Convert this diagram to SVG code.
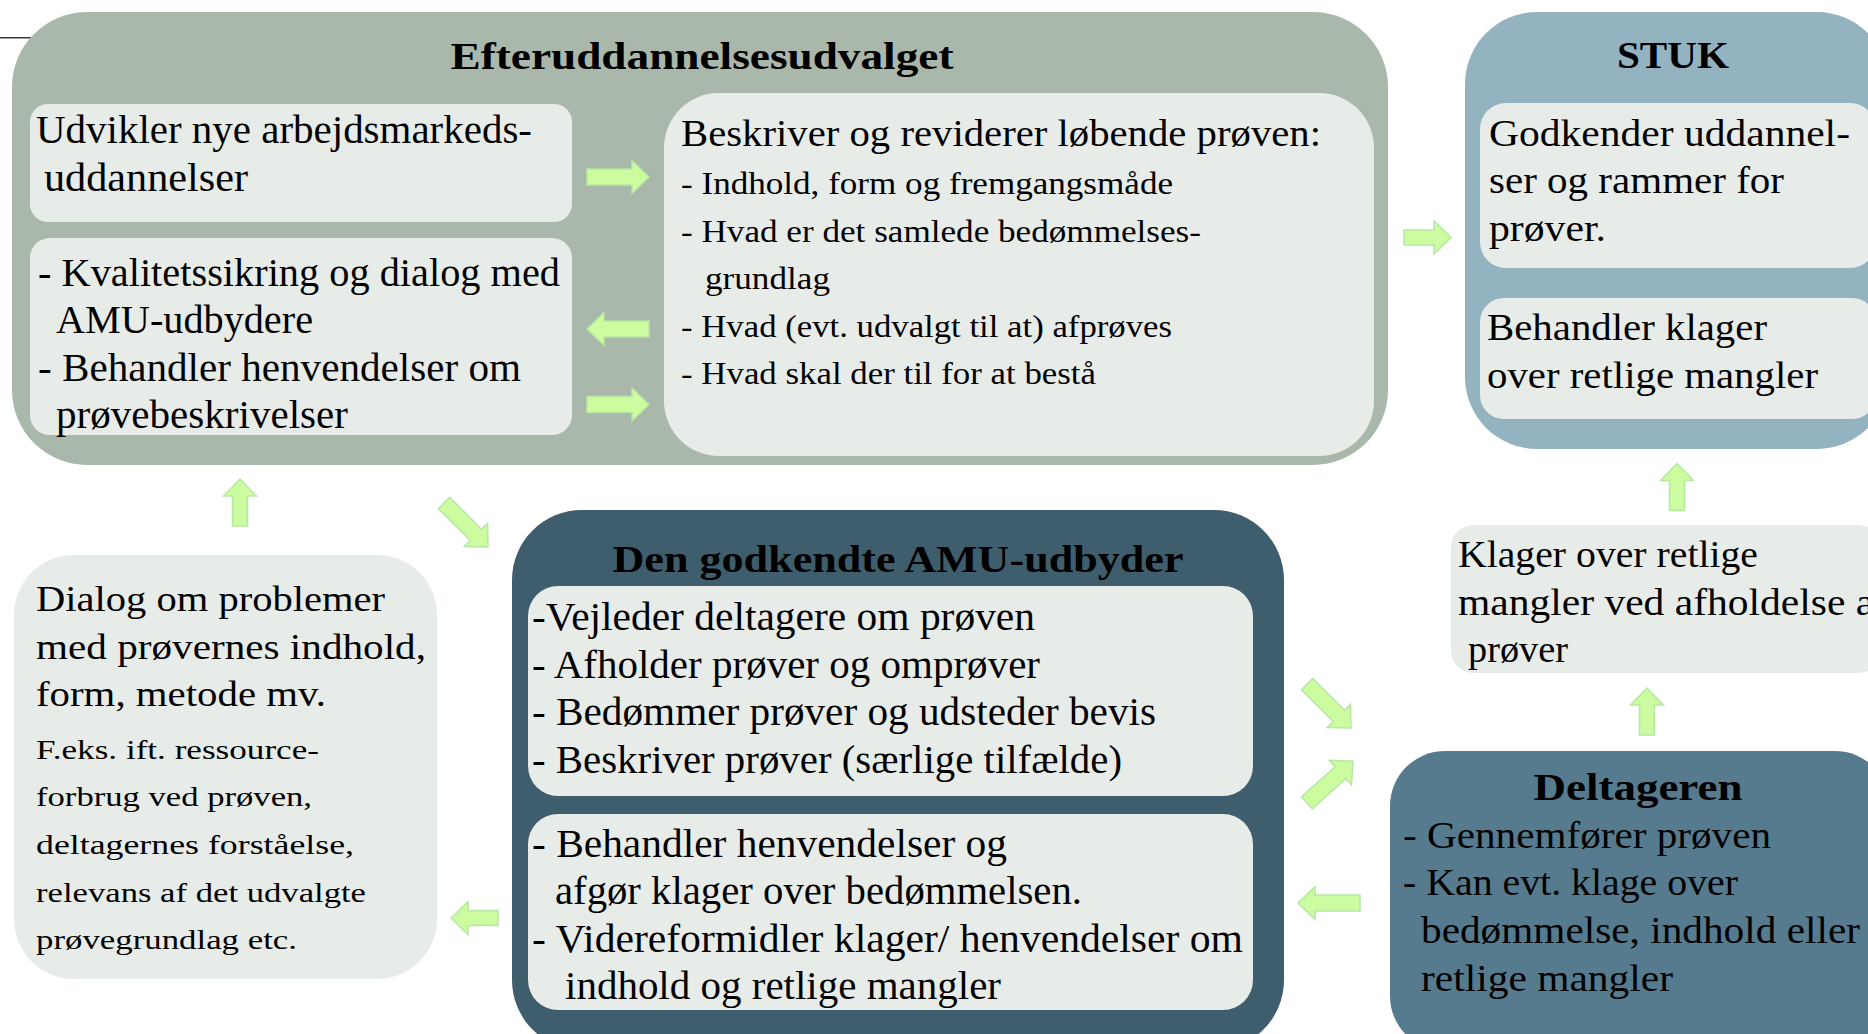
<svg xmlns="http://www.w3.org/2000/svg" width="1868" height="1034" viewBox="0 0 1868 1034">
<style>
text{font-family:"Liberation Serif","Times New Roman",serif;fill:#000;}
.t{font-weight:bold;font-size:38px;}
.b{font-size:38px;}
.c{font-size:41px;}
.m{font-size:31px;}
.s{font-size:28px;}
.inner{fill:#e8ece9;}
.arr{fill:#cdfba0;stroke:#b5e8a3;stroke-width:1.5;}
</style>
<defs>
<path id="arrL" d="M-31,-8 H14 V-16.5 L31,0 L14,16.5 V8 H-31 Z"/>
<path id="arrS" d="M-23.5,-7.5 H6.5 V-16.5 L23.5,0 L6.5,16.5 V7.5 H-23.5 Z"/>
</defs>
<rect width="1868" height="1034" fill="#fff"/>
<line x1="0" y1="37.7" x2="34" y2="37.7" stroke="#3a3a3a" stroke-width="1.5"/>

<g id="n-efteruddannelsesudvalget">
<rect x="12" y="12" width="1376" height="453" rx="75" fill="#aab8ab"/>
<text class="t" x="702" y="69" text-anchor="middle" textLength="503" lengthAdjust="spacingAndGlyphs">Efteruddannelsesudvalget</text>
</g>
<g id="n-udvikler">
<rect class="inner" x="30" y="104" width="542" height="118" rx="18"/>
<text class="c" x="36" y="143" textLength="496" lengthAdjust="spacingAndGlyphs">Udvikler nye arbejdsmarkeds-</text>
<text class="c" x="44" y="191" textLength="204" lengthAdjust="spacingAndGlyphs">uddannelser</text>
</g>
<g id="n-kvalitet">
<rect class="inner" x="30" y="238" width="542" height="197" rx="20"/>
<text class="c" x="38" y="286" textLength="522" lengthAdjust="spacingAndGlyphs">- Kvalitetssikring og dialog med</text>
<text class="c" x="56" y="333" textLength="257" lengthAdjust="spacingAndGlyphs">AMU-udbydere</text>
<text class="c" x="38" y="381" textLength="483" lengthAdjust="spacingAndGlyphs">- Behandler henvendelser om</text>
<text class="c" x="56" y="428" textLength="292" lengthAdjust="spacingAndGlyphs">prøvebeskrivelser</text>
</g>
<g id="n-beskriver">
<rect class="inner" x="664" y="93" width="710" height="363" rx="55"/>
<text x="681" y="146" font-size="38" textLength="640" lengthAdjust="spacingAndGlyphs">Beskriver og reviderer løbende prøven:</text>
<text class="m" x="681" y="194" textLength="492" lengthAdjust="spacingAndGlyphs">- Indhold, form og fremgangsmåde</text>
<text class="m" x="681" y="242" textLength="520" lengthAdjust="spacingAndGlyphs">- Hvad er det samlede bedømmelses-</text>
<text class="m" x="705" y="289" textLength="125" lengthAdjust="spacingAndGlyphs">grundlag</text>
<text class="m" x="681" y="337" textLength="491" lengthAdjust="spacingAndGlyphs">- Hvad (evt. udvalgt til at) afprøves</text>
<text class="m" x="681" y="384" textLength="415" lengthAdjust="spacingAndGlyphs">- Hvad skal der til for at bestå</text>
</g>

<g id="n-stuk">
<rect x="1465" y="12" width="424" height="437" rx="72" fill="#94b3c1"/>
<text class="t" x="1673" y="68" text-anchor="middle" textLength="112" lengthAdjust="spacingAndGlyphs">STUK</text>
</g>
<g id="n-godkender">
<rect class="inner" x="1480" y="103" width="396" height="165" rx="26"/>
<text class="b" x="1489" y="146" textLength="361" lengthAdjust="spacingAndGlyphs">Godkender uddannel-</text>
<text class="b" x="1489" y="193" textLength="295" lengthAdjust="spacingAndGlyphs">ser og rammer for</text>
<text class="b" x="1489" y="241" textLength="117" lengthAdjust="spacingAndGlyphs">prøver.</text>
</g>
<g id="n-behandler-klager">
<rect class="inner" x="1480" y="298" width="396" height="121" rx="24"/>
<text class="b" x="1487" y="340" textLength="280" lengthAdjust="spacingAndGlyphs">Behandler klager</text>
<text class="b" x="1487" y="388" textLength="331" lengthAdjust="spacingAndGlyphs">over retlige mangler</text>
</g>

<g id="n-klager">
<rect class="inner" x="1451" y="525" width="430" height="148" rx="22"/>
<text class="b" x="1458" y="567" textLength="300" lengthAdjust="spacingAndGlyphs">Klager over retlige</text>
<text class="b" x="1458" y="615" textLength="430" lengthAdjust="spacingAndGlyphs">mangler ved afholdelse af</text>
<text class="b" x="1468" y="662" textLength="100" lengthAdjust="spacingAndGlyphs">prøver</text>
</g>

<g id="n-deltageren">
<rect x="1390" y="751" width="500" height="300" rx="55" fill="#577b8e"/>
<text class="t" x="1638" y="800" text-anchor="middle" textLength="209" lengthAdjust="spacingAndGlyphs">Deltageren</text>
<text class="b" x="1403" y="848" textLength="368" lengthAdjust="spacingAndGlyphs">- Gennemfører prøven</text>
<text class="b" x="1403" y="895" textLength="335" lengthAdjust="spacingAndGlyphs">- Kan evt. klage over</text>
<text class="b" x="1421" y="943" textLength="439" lengthAdjust="spacingAndGlyphs">bedømmelse, indhold eller</text>
<text class="b" x="1421" y="991" textLength="252" lengthAdjust="spacingAndGlyphs">retlige mangler</text>
</g>

<g id="n-amu-udbyder">
<rect x="512" y="510" width="772" height="540" rx="70" fill="#3f5e6d"/>
<text class="t" x="898" y="572" text-anchor="middle" textLength="571" lengthAdjust="spacingAndGlyphs">Den godkendte AMU-udbyder</text>
</g>
<g id="n-vejleder">
<rect class="inner" x="528" y="586" width="725" height="210" rx="30"/>
<text class="c" x="532" y="630" textLength="503" lengthAdjust="spacingAndGlyphs">-Vejleder deltagere om prøven</text>
<text class="c" x="532" y="678" textLength="508" lengthAdjust="spacingAndGlyphs">- Afholder prøver og omprøver</text>
<text class="c" x="532" y="725" textLength="624" lengthAdjust="spacingAndGlyphs">- Bedømmer prøver og udsteder bevis</text>
<text class="c" x="532" y="773" textLength="590" lengthAdjust="spacingAndGlyphs">- Beskriver prøver (særlige tilfælde)</text>
</g>
<g id="n-behandler-henvendelser">
<rect class="inner" x="528" y="814" width="725" height="196" rx="30"/>
<text class="c" x="532" y="857" textLength="475" lengthAdjust="spacingAndGlyphs">- Behandler henvendelser og</text>
<text class="c" x="555" y="904" textLength="527" lengthAdjust="spacingAndGlyphs">afgør klager over bedømmelsen.</text>
<text class="c" x="532" y="952" textLength="711" lengthAdjust="spacingAndGlyphs">- Videreformidler klager/ henvendelser om</text>
<text class="c" x="565" y="999" textLength="436" lengthAdjust="spacingAndGlyphs">indhold og retlige mangler</text>
</g>

<g id="n-dialog">
<rect class="inner" x="14" y="555" width="423" height="424" rx="60"/>
<text x="36" y="611" font-size="36" textLength="349" lengthAdjust="spacingAndGlyphs">Dialog om problemer</text>
<text x="36" y="659" font-size="36" textLength="390" lengthAdjust="spacingAndGlyphs">med prøvernes indhold,</text>
<text x="36" y="706" font-size="36" textLength="290" lengthAdjust="spacingAndGlyphs">form, metode mv.</text>
<text class="s" x="36" y="759" textLength="283" lengthAdjust="spacingAndGlyphs">F.eks. ift. ressource-</text>
<text class="s" x="36" y="806" textLength="276" lengthAdjust="spacingAndGlyphs">forbrug ved prøven,</text>
<text class="s" x="36" y="854" textLength="318" lengthAdjust="spacingAndGlyphs">deltagernes forståelse,</text>
<text class="s" x="36" y="902" textLength="330" lengthAdjust="spacingAndGlyphs">relevans af det udvalgte</text>
<text class="s" x="36" y="949" textLength="261" lengthAdjust="spacingAndGlyphs">prøvegrundlag etc.</text>
</g>

<g id="connectors">
<use href="#arrL" class="arr" transform="translate(618,177)"/>
<use href="#arrL" class="arr" transform="translate(618,329) rotate(180)"/>
<use href="#arrL" class="arr" transform="translate(618,404.5)"/>
<use href="#arrS" class="arr" transform="translate(1427.5,237.5)"/>
<use href="#arrS" class="arr" transform="translate(240,502.5) rotate(-90)"/>
<use href="#arrL" class="arr" transform="translate(466,525) rotate(45)"/>
<use href="#arrS" class="arr" transform="translate(1677,487) rotate(-90)"/>
<use href="#arrS" class="arr" transform="translate(1647,711.5) rotate(-90)"/>
<use href="#arrL" class="arr" transform="translate(1329,706) rotate(45)"/>
<use href="#arrL" class="arr" transform="translate(1330,782) rotate(-42)"/>
<use href="#arrL" class="arr" transform="translate(1329,903) rotate(180)"/>
<use href="#arrS" class="arr" transform="translate(474.5,918) rotate(180)"/>
</g>
</svg>
